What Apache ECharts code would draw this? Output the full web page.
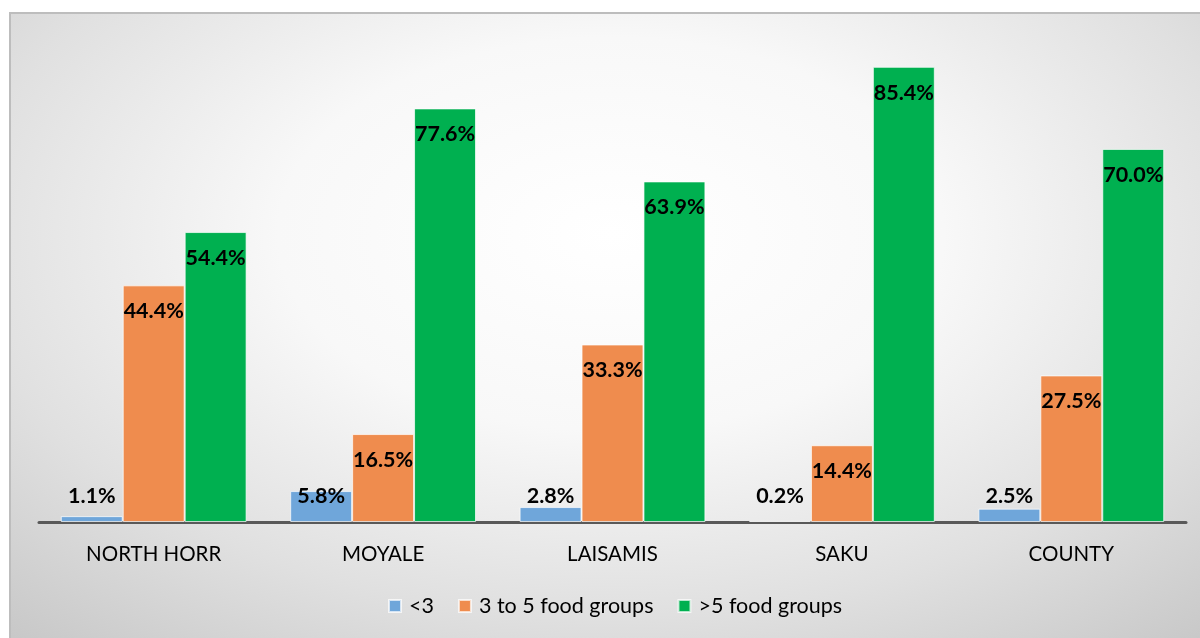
<!DOCTYPE html>
<html><head><meta charset="utf-8">
<script src="https://cdn.jsdelivr.net/npm/echarts@6/dist/echarts.min.js"></script>
<style>
html,body{margin:0;padding:0;background:#fff;width:1200px;height:638px;overflow:hidden}
#bg{position:absolute;left:9px;top:12px;width:1191px;height:626px;border-top:2px solid #bdbdbd;border-left:2px solid #bdbdbd;box-sizing:border-box;
background:radial-gradient(ellipse 80% 90% at 600px 220px,#ffffff 0%,#f8f8f8 35%,#e0e0e0 68%,#c4c4c4 100%)}
#chart{position:absolute;left:0;top:0;width:1200px;height:638px}
</style></head><body>
<div id="bg"></div>
<div id="chart"></div>
<script>
const categories = ['NORTH HORR','MOYALE','LAISAMIS','SAKU','COUNTY'];
const seriesNames = ['<3','3 to 5 food groups','>5 food groups'];
const lessThan3 = [1.1,5.8,2.8,0.2,2.5];
const threeToFive = [44.4,16.5,33.3,14.4,27.5];
const moreThan5 = [54.4,77.6,63.9,85.4,70.0];
const colors = ['#6fa6da','#ef8c4e','#00b050'];

const chart = echarts.init(document.getElementById('chart'), null, {renderer:'canvas'});
const font = 'Lato, "Open Sans", sans-serif';
function mk(vals){
  return vals.map(v => {
    const d = {value: v};
    if (v < 10) d.label = {position:'insideBottom', distance:15};
    return d;
  });
}
const allVals = [lessThan3, threeToFive, moreThan5];
chart.setOption({
  animation:false,
  backgroundColor:'transparent',
  grid:{left:39, right:14, top:42.3, bottom:116, containLabel:false},
  legend:{
    bottom:16, left:383, itemWidth:12, itemHeight:12, itemGap:24,
    icon:'rect',
    textStyle:{fontFamily:font, fontSize:21.5, color:'#000', padding:[0,0,0,3]},
    data: seriesNames
  },
  xAxis:{
    type:'category', data:categories,
    axisLine:{lineStyle:{color:'#595959', width:3}},
    axisTick:{show:false},
    axisLabel:{fontFamily:font, fontSize:20.5, color:'#000', margin:22}
  },
  yAxis:{type:'value', min:0, max:90, show:false, splitLine:{show:false}},
  series: seriesNames.map((n,i)=>({
    name:n, type:'bar', data: mk(allVals[i]),
    barGap:'0%', barCategoryGap:'19%',
    itemStyle:{color:colors[i], borderColor:'rgba(255,255,255,0.7)', borderWidth:1},
    label:{show:true, position:'insideTop', distance:15, formatter: p => p.value.toFixed(1)+'%',
      fontFamily:font, fontSize:21.5, fontWeight:'bold', color:'#000'}
  }))
});
</script>
</body></html>
